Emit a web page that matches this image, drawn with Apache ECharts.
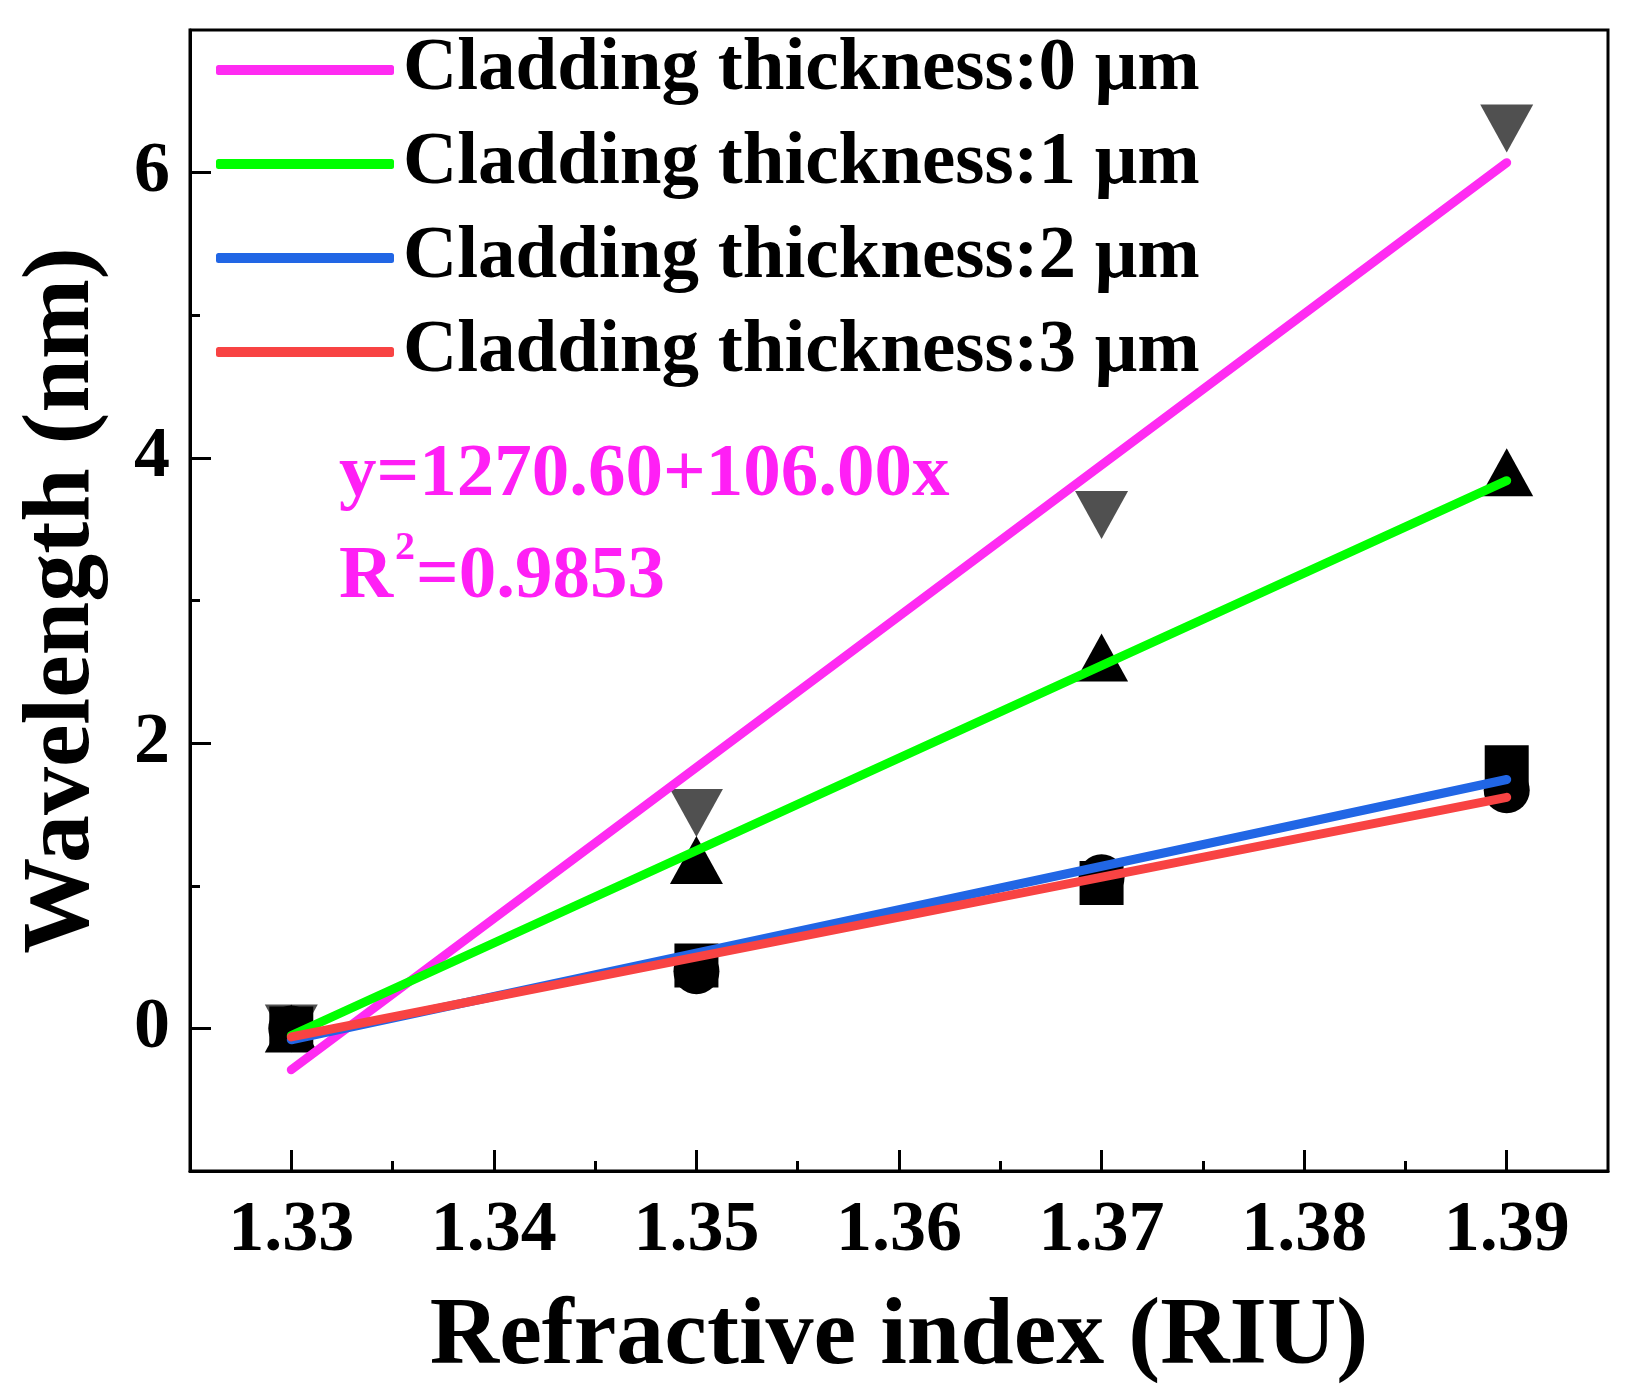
<!DOCTYPE html>
<html>
<head>
<meta charset="utf-8">
<script src="https://cdn.jsdelivr.net/npm/echarts@6/dist/echarts.min.js"></script>
<style>
  html, body { margin: 0; padding: 0; background: #fff; }
  #chart { width: 1643px; height: 1399px; }
</style>
</head>
<body>
<div id="chart"></div>
<script>
// refractive index of the measured points
const xValues = [1.33, 1.35, 1.37, 1.39];
// wavelength shift (nm) for each cladding thickness
const shift0 = [0, 1.51, 3.60, 6.31];
const shift1 = [0, 1.18, 2.60, 3.90];
const shift2 = [0, 0.44, 1.02, 1.83];
const shift3 = [0, 0.40, 1.06, 1.67];
// linear fit end points
const fitX = [1.33, 1.39];
const fit0 = [-0.29, 6.07];
const fit1 = [-0.05, 3.84];
const fit2 = [-0.08, 1.745];
const fit3 = [-0.06, 1.62];

const names = [
  'Cladding thickness:0 μm',
  'Cladding thickness:1 μm',
  'Cladding thickness:2 μm',
  'Cladding thickness:3 μm'
];
const xTicks = [1.33, 1.34, 1.35, 1.36, 1.37, 1.38, 1.39];
const xMinor = [1.335, 1.345, 1.355, 1.365, 1.375, 1.385];
const yTicks = [0, 2, 4, 6];
const yMinor = [1, 3, 5];

const FONT = '"Liberation Serif", "Times New Roman", serif';
const colors = ['#FF2BF2', '#00FF00', '#2166E5', '#F84343'];
const noteColor = '#FF1FF5';

const pairs = (xs, ys) => xs.map((x, i) => [x, ys[i]]);

const chart = echarts.init(document.getElementById('chart'));

const xBase = { type: 'value', min: 1.325, max: 1.395, gridIndex: 0, position: 'bottom', splitLine: { show: false } };
const yBase = { type: 'value', min: -1, max: 7, gridIndex: 0, position: 'left', splitLine: { show: false } };

function scatter(data, symbol, size, color, rotate) {
  return {
    type: 'scatter',
    name: '',
    data: data,
    symbol: symbol,
    symbolSize: size,
    symbolRotate: rotate || 0,
    itemStyle: { color: color, opacity: 1 },
    z: 2,
    silent: true
  };
}

function fitLine(name, data, color) {
  return {
    type: 'line',
    name: name,
    data: data,
    symbol: 'none',
    color: color,
    lineStyle: { color: color, width: 9, cap: 'round' },
    z: 3
  };
}

function note(text, x, y, size) {
  return {
    type: 'text', x: x, y: y, z: 10,
    style: { text: text, fill: noteColor, font: 'bold ' + size + 'px ' + FONT, verticalAlign: 'middle' }
  };
}

const option = {
  animation: false,
  backgroundColor: '#fff',
  grid: {
    left: 190, top: 30, width: 1418, height: 1141,
    show: true, borderColor: '#000', borderWidth: 3
  },
  xAxis: [
    Object.assign({}, xBase, {
      name: 'Refractive index (RIU)',
      nameLocation: 'middle',
      nameGap: 119,
      nameTextStyle: { fontFamily: FONT, fontWeight: 'bold', fontSize: 96, color: '#000' },
      axisLine: { show: true, onZero: false, lineStyle: { color: '#000', width: 3 } },
      axisTick: { show: true, inside: true, length: 21, customValues: xTicks, lineStyle: { color: '#000', width: 3 } },
      axisLabel: {
        customValues: xTicks, margin: 24,
        formatter: v => v.toFixed(2),
        fontFamily: FONT, fontWeight: 'bold', fontSize: 72, color: '#000'
      }
    }),
    Object.assign({}, xBase, {
      axisLine: { show: false, onZero: false },
      axisTick: { show: true, inside: true, length: 10, customValues: xMinor, lineStyle: { color: '#000', width: 3 } },
      axisLabel: { show: false }
    })
  ],
  yAxis: [
    Object.assign({}, yBase, {
      name: 'Wavelength (nm)',
      nameLocation: 'middle',
      nameGap: 79,
      nameTextStyle: { fontFamily: FONT, fontWeight: 'bold', fontSize: 96, color: '#000' },
      axisLine: { show: true, onZero: false, lineStyle: { color: '#000', width: 3 } },
      axisTick: { show: true, inside: true, length: 21, customValues: yTicks, lineStyle: { color: '#000', width: 3 } },
      axisLabel: {
        customValues: yTicks, margin: 20,
        fontFamily: FONT, fontWeight: 'bold', fontSize: 72, color: '#000'
      }
    }),
    Object.assign({}, yBase, {
      axisLine: { show: false, onZero: false },
      axisTick: { show: true, inside: true, length: 10, customValues: yMinor, lineStyle: { color: '#000', width: 3 } },
      axisLabel: { show: false }
    })
  ],
  legend: {
    data: names,
    orient: 'vertical',
    left: 211,
    top: 25,
    icon: 'roundRect',
    itemWidth: 178,
    itemHeight: 10,
    itemGap: 14,
    textStyle: {
      fontFamily: FONT, fontWeight: 'bold', fontSize: 75, color: '#000',
      lineHeight: 80, padding: [0, 0, 0, 4]
    },
    selectedMode: false
  },
  graphic: [
    note('y=1270.60+106.00x', 339, 476, 75),
    note('R', 339, 578, 75),
    note('2', 395, 549, 40),
    note('=0.9853', 416, 578, 75)
  ],
  series: [
    scatter(pairs(xValues, shift0), 'triangle', [53, 48], '#505050', 180),
    scatter(pairs(xValues, shift1), 'triangle', [53, 48], '#000'),
    scatter(pairs(xValues, shift2), 'rect', 44, '#000'),
    scatter(pairs(xValues, shift3), 'circle', 46, '#000'),
    fitLine(names[0], pairs(fitX, fit0), colors[0]),
    fitLine(names[1], pairs(fitX, fit1), colors[1]),
    fitLine(names[2], pairs(fitX, fit2), colors[2]),
    fitLine(names[3], pairs(fitX, fit3), colors[3])
  ]
};

chart.setOption(option);
window.addEventListener('resize', chart.resize);
</script>
</body>
</html>
